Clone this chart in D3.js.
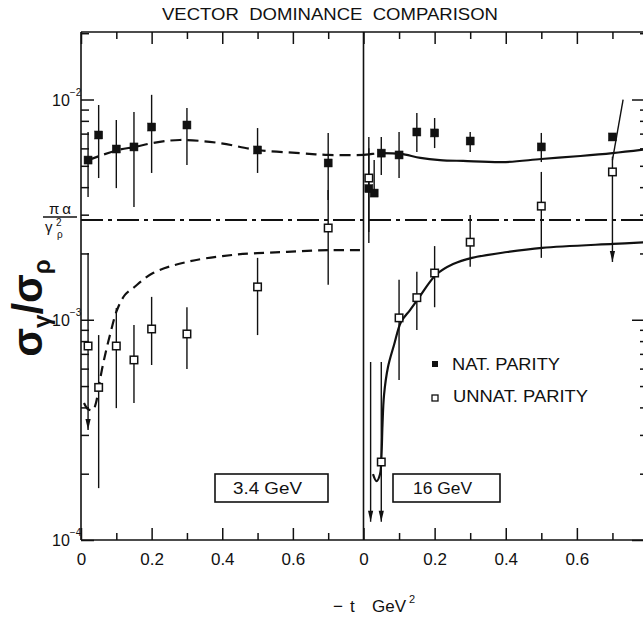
<!DOCTYPE html>
<html><head><meta charset="utf-8">
<script src="https://cdn.jsdelivr.net/npm/d3@7"></script>
<style>
body{margin:0;background:#fff;}
svg{display:block;background:#fff;}
text{font-family:"Liberation Sans","DejaVu Sans",Arial,sans-serif;fill:#111;}
</style></head><body>
<svg id="chart" width="643" height="620"></svg>
<script>
// ---------------- data ----------------
const title = "VECTOR\u00A0\u00A0DOMINANCE\u00A0\u00A0COMPARISON";
const panelLabels = ["3.4 GeV", "16 GeV"];
const xTickMajor = [0, 0.2, 0.4, 0.6];
const xTickMinor = [0.1, 0.3, 0.5, 0.7];
const yTickMajor = [1e-4, 1e-3, 1e-2];
const yTickExp = ["\u22124", "\u22123", "\u22122"];
const legendLabels = ["NAT. PARITY", "UNNAT. PARITY"];
const piAlphaOverGammaSq = 2.84e-3;

// 3.4 GeV natural parity (filled)
const nat34T  = [0.02, 0.05, 0.10, 0.15, 0.20, 0.30, 0.50, 0.70];
const nat34V  = [5.31e-3, 6.90e-3, 5.96e-3, 6.09e-3, 7.50e-3, 7.66e-3, 5.90e-3, 5.15e-3];
const nat34Lo = [3.61e-3, 4.40e-3, 3.96e-3, 3.25e-3, 4.64e-3, 5.04e-3, 4.64e-3, 3.50e-3];
const nat34Hi = [7.12e-3, 9.44e-3, 8.07e-3, 8.77e-3, 1.05e-2, 9.15e-3, 7.42e-3, 7.05e-3];
// 3.4 GeV unnatural parity (open)
const unn34T  = [0.02, 0.05, 0.10, 0.15, 0.20, 0.30, 0.50, 0.70];
const unn34V  = [7.60e-4, 4.93e-4, 7.60e-4, 6.57e-4, 9.08e-4, 8.62e-4, 1.41e-3, 2.61e-3];
const unn34Lo = [3.16e-4, 1.72e-4, 3.97e-4, 4.19e-4, 6.23e-4, 5.98e-4, 8.52e-4, 1.44e-3];
const unn34Hi = [2.01e-3, 8.52e-4, 1.13e-3, 9.47e-4, 1.27e-3, 1.14e-3, 1.91e-3, 3.88e-3];
const unn34Arrow = [1, 0, 0, 0, 0, 0, 0, 0];

// 16 GeV natural parity (filled)
const nat16T  = [0.015, 0.03, 0.05, 0.10, 0.15, 0.20, 0.30, 0.50, 0.70];
const nat16V  = [3.94e-3, 3.76e-3, 5.71e-3, 5.60e-3, 7.12e-3, 7.05e-3, 6.48e-3, 6.09e-3, 6.76e-3];
const nat16Lo = [2.23e-3, 3.61e-3, 4.54e-3, 4.40e-3, 5.78e-3, 6.02e-3, 5.78e-3, 5.20e-3, 5.31e-3];
const nat16Hi = [6.76e-3, 5.31e-3, 6.76e-3, 7.12e-3, 8.68e-3, 8.24e-3, 7.12e-3, 7.05e-3, 1.0e-2];
const nat16HiT = [0.015, 0.03, 0.05, 0.10, 0.15, 0.20, 0.30, 0.50, 0.73];
// 16 GeV unnatural parity (open)
const unn16T  = [0.015, 0.05, 0.10, 0.15, 0.20, 0.30, 0.50, 0.70];
const unn16V  = [4.40e-3, 2.26e-4, 1.02e-3, 1.26e-3, 1.63e-3, 2.25e-3, 3.28e-3, 4.69e-3];
const unn16Lo = [2.50e-3, 1.21e-4, 5.33e-4, 8.98e-4, 1.14e-3, 1.74e-3, 1.91e-3, 1.83e-3];
const unn16Hi = [6.00e-3, 6.43e-4, 1.52e-3, 1.65e-3, 2.16e-3, 2.99e-3, 4.69e-3, 5.50e-3];
const unn16Arrow = [0, 1, 0, 0, 0, 0, 0, 1];
// 16 GeV upper limit without point
const ul16T  = [0.02];
const ul16Hi = [6.43e-4];
const ul16Lo = [1.21e-4];

// model curves
const natCurve34T = [0.02, 0.105, 0.153, 0.204, 0.28, 0.39, 0.50, 0.62, 0.70, 0.80];
const natCurve34V = [5.31e-3, 5.90e-3, 6.09e-3, 6.35e-3, 6.55e-3, 6.35e-3, 5.90e-3, 5.71e-3, 5.60e-3, 5.60e-3];
const natCurve16DashT = [0, 0.025, 0.05];
const natCurve16DashV = [5.60e-3, 5.66e-3, 5.71e-3];
const natCurve16T = [0.05, 0.105, 0.16, 0.215, 0.28, 0.40, 0.50, 0.61, 0.70, 0.80];
const natCurve16V = [5.71e-3, 5.66e-3, 5.43e-3, 5.31e-3, 5.26e-3, 5.20e-3, 5.37e-3, 5.54e-3, 5.71e-3, 5.96e-3];
const unnCurve34T = [0.0085, 0.0198, 0.034, 0.0425, 0.051, 0.065, 0.082, 0.102, 0.125, 0.147, 0.204, 0.30, 0.43, 0.572, 0.70, 0.80];
const unnCurve34V = [4.19e-4, 3.93e-4, 3.89e-4, 4.20e-4, 5.05e-4, 6.57e-4, 8.52e-4, 1.107e-3, 1.30e-3, 1.39e-3, 1.63e-3, 1.83e-3, 1.97e-3, 2.03e-3, 2.07e-3, 2.07e-3];
const unnCurve16T = [0.0267, 0.0366, 0.0464, 0.0506, 0.0534, 0.0577, 0.0689, 0.0858, 0.1055, 0.1308, 0.156, 0.204, 0.252, 0.305, 0.404, 0.502, 0.702, 0.80];
const unnCurve16V = [1.99e-4, 1.85e-4, 1.99e-4, 2.43e-4, 3.33e-4, 4.55e-4, 6.10e-4, 7.68e-4, 9.77e-4, 1.107e-3, 1.26e-3, 1.60e-3, 1.79e-3, 1.91e-3, 2.03e-3, 2.12e-3, 2.21e-3, 2.25e-3];

// ---------------- drawing ----------------
const svg = d3.select("#chart");
const x34 = d3.scaleLinear().domain([0, 0.8]).range([81, 363.5]);
const x16 = d3.scaleLinear().domain([0, 0.8]).range([363.5, 648]);
const y = d3.scaleLog().domain([1e-4, Math.pow(10, -1.6935)]).range([540, 32]);
const yTop = y.range()[1], yBot = y.range()[0];
const ink = "#111";

// frame
const frame = svg.append("g").attr("stroke", ink).attr("stroke-width", 1.6).attr("fill", "none");
frame.append("line").attr("x1", x34(0)).attr("x2", x16(0.8)).attr("y1", yTop).attr("y2", yTop);
frame.append("line").attr("x1", x34(0)).attr("x2", x16(0.8)).attr("y1", yBot).attr("y2", yBot);
[x34(0), x16(0), x16(0.8)].forEach(xx =>
  frame.append("line").attr("x1", xx).attr("x2", xx).attr("y1", yTop).attr("y2", yBot));

function styleAxis(g) {
  g.select(".domain").remove();
  g.selectAll(".tick line").attr("stroke", ink).attr("stroke-width", 1.5);
  g.selectAll("text").attr("font-size", 17).attr("font-family", '"Liberation Sans","DejaVu Sans",sans-serif').attr("fill", ink);
}
const fmt = d => d === 0 ? "0" : d3.format(".1f")(d);
[x34, x16].forEach(xs => {
  svg.append("g").attr("transform", `translate(0,${yBot})`)
    .call(d3.axisBottom(xs).tickValues(xTickMajor).tickSize(-12).tickSizeOuter(0).tickPadding(13).tickFormat(fmt)).call(styleAxis);
  svg.append("g").attr("transform", `translate(0,${yBot})`)
    .call(d3.axisBottom(xs).tickValues(xTickMinor).tickSize(-7).tickSizeOuter(0).tickFormat("")).call(styleAxis);
  svg.append("g").attr("transform", `translate(0,${yTop})`)
    .call(d3.axisTop(xs).tickValues(xTickMajor).tickSize(-12).tickSizeOuter(0).tickFormat("")).call(styleAxis);
  svg.append("g").attr("transform", `translate(0,${yTop})`)
    .call(d3.axisTop(xs).tickValues(xTickMinor).tickSize(-7).tickSizeOuter(0).tickFormat("")).call(styleAxis);
});
const yMinor = [];
[-4, -3, -2].forEach(k => { for (let m = 2; m <= 9; m++) { const v = m * Math.pow(10, k); if (v <= y.domain()[1]) yMinor.push(v); } });
svg.append("g").attr("transform", `translate(${x34(0)},0)`)
  .call(d3.axisLeft(y).tickValues(yTickMajor).tickSize(-13).tickSizeOuter(0).tickFormat("")).call(styleAxis);
svg.append("g").attr("transform", `translate(${x34(0)},0)`)
  .call(d3.axisLeft(y).tickValues(yMinor).tickSize(-8).tickSizeOuter(0).tickFormat("")).call(styleAxis);
svg.append("g").attr("transform", `translate(${x16(0.8)},0)`)
  .call(d3.axisRight(y).tickValues(yTickMajor).tickSize(-16).tickSizeOuter(0).tickFormat("")).call(styleAxis);
svg.append("g").attr("transform", `translate(${x16(0.8)},0)`)
  .call(d3.axisRight(y).tickValues(yMinor).tickSize(-8).tickSizeOuter(0).tickFormat("")).call(styleAxis);

// y tick labels 10^k
yTickMajor.forEach((v, i) => {
  const t = svg.append("text").attr("x", 52).attr("y", y(v) + 6).attr("font-size", 16);
  t.append("tspan").text("10");
  t.append("tspan").attr("font-size", 10).attr("dy", -10).text(yTickExp[i]);
});

// pi alpha / gamma^2 line + label
svg.append("line").attr("x1", x34(0)).attr("x2", x16(0.8))
  .attr("y1", y(piAlphaOverGammaSq)).attr("y2", y(piAlphaOverGammaSq))
  .attr("stroke", ink).attr("stroke-width", 2).attr("stroke-dasharray", "22,5,4,5");
const fy = y(piAlphaOverGammaSq);
svg.append("text").attr("x", 60).attr("y", fy - 6).attr("text-anchor", "middle").attr("font-size", 15).text("\u03C0\u2009\u03B1");
svg.append("line").attr("x1", 43).attr("x2", 77).attr("y1", fy - 3).attr("y2", fy - 3).attr("stroke", ink).attr("stroke-width", 1.5);
svg.append("text").attr("x", 45).attr("y", fy + 12).attr("font-size", 15).text("\u03B3");
svg.append("text").attr("x", 56).attr("y", fy + 6).attr("font-size", 10).text("2");
svg.append("text").attr("x", 57).attr("y", fy + 18).attr("font-size", 10).text("\u03C1");

// title
svg.append("text").attr("x", 162).attr("y", 19.5).attr("font-size", 17)
  .attr("textLength", 336).attr("lengthAdjust", "spacingAndGlyphs").text(title);

// y axis title
const yl = svg.append("text").attr("transform", "translate(42,308) rotate(-90)")
  .attr("text-anchor", "middle").attr("font-size", 42).attr("font-weight", "bold")
  .attr("font-family", '"DejaVu Sans",sans-serif');
yl.append("tspan").text("\u03C3");
yl.append("tspan").attr("font-size", 24).attr("dy", 8).text("\u03B3");
yl.append("tspan").attr("dy", -8).text("/\u03C3");
yl.append("tspan").attr("font-size", 24).attr("dy", 8).text("\u03C1");

// x axis title
const xl = svg.append("text").attr("y", 612).attr("font-size", 17);
xl.append("tspan").attr("x", 333).text("\u2212");
xl.append("tspan").attr("x", 350).text("t");
xl.append("tspan").attr("x", 372).text("GeV");
xl.append("tspan").attr("x", 409).attr("dy", -9).attr("font-size", 11).text("2");

// curves
const lineGen = xs => d3.line().x(d => xs(d.t)).y(d => y(d.v)).curve(d3.curveCatmullRom.alpha(0.5));
const zip = (T, V) => T.map((t, i) => ({t, v: V[i]}));
function drawCurve(xs, T, V, dash) {
  svg.append("path").datum(zip(T, V)).attr("d", lineGen(xs)).attr("fill", "none")
    .attr("stroke", ink).attr("stroke-width", 2.2).attr("stroke-dasharray", dash || null);
}
drawCurve(x34, natCurve34T, natCurve34V, "11,6");
drawCurve(x34, unnCurve34T, unnCurve34V, "10,6");
drawCurve(x16, natCurve16DashT, natCurve16DashV, "11,6");
drawCurve(x16, natCurve16T, natCurve16V, null);
drawCurve(x16, unnCurve16T, unnCurve16V, null);

// error bars
function arrowHead(xx, yy) {
  svg.append("path").attr("d", `M${xx - 2.6},${yy - 11}L${xx + 2.6},${yy - 11}L${xx},${yy}Z`).attr("fill", ink);
}
function drawBars(xs, T, Lo, Hi, Arrow, HiT) {
  T.forEach((t, i) => {
    const xb = xs(t), xt = HiT ? xs(HiT[i]) : xb;
    svg.append("line").attr("x1", xb).attr("x2", xt).attr("y1", y(Lo[i])).attr("y2", y(Hi[i]))
      .attr("stroke", ink).attr("stroke-width", 1.4);
    if (Arrow && Arrow[i]) arrowHead(xb, y(Lo[i]));
  });
}
drawBars(x34, nat34T, nat34Lo, nat34Hi, null, null);
drawBars(x34, unn34T, unn34Lo, unn34Hi, unn34Arrow, null);
drawBars(x16, nat16T, nat16Lo, nat16Hi, null, nat16HiT);
drawBars(x16, unn16T, unn16Lo, unn16Hi, unn16Arrow, null);
drawBars(x16, ul16T, ul16Lo, ul16Hi, ul16T.map(() => 1), null);

// markers
function drawMarkers(xs, T, V, filled, s) {
  svg.append("g").selectAll("rect").data(zip(T, V)).join("rect")
    .attr("x", d => xs(d.t) - s / 2).attr("y", d => y(d.v) - s / 2)
    .attr("width", s).attr("height", s)
    .attr("fill", filled ? ink : "#fff").attr("stroke", ink).attr("stroke-width", filled ? 0.5 : 1.5);
}
drawMarkers(x34, unn34T, unn34V, false, 7.5);
drawMarkers(x16, unn16T, unn16V, false, 7.5);
drawMarkers(x34, nat34T, nat34V, true, 8);
drawMarkers(x16, nat16T, nat16V, true, 8);

// legend
svg.append("rect").attr("x", 432).attr("y", 361).attr("width", 6).attr("height", 6).attr("fill", ink);
svg.append("rect").attr("x", 432).attr("y", 395).attr("width", 6).attr("height", 6).attr("fill", "#fff").attr("stroke", ink).attr("stroke-width", 1.3);
svg.append("text").attr("x", 452).attr("y", 370).attr("font-size", 17).attr("textLength", 108).attr("lengthAdjust", "spacingAndGlyphs").text(legendLabels[0]);
svg.append("text").attr("x", 453).attr("y", 402).attr("font-size", 17).attr("textLength", 135).attr("lengthAdjust", "spacingAndGlyphs").text(legendLabels[1]);

// panel boxes
const boxes = [{x: 215, w: 113, tx: 233, tl: 69}, {x: 393, w: 107, tx: 413, tl: 59}];
boxes.forEach((b, i) => {
  svg.append("rect").attr("x", b.x).attr("y", 474).attr("width", b.w).attr("height", 28)
    .attr("fill", "#fff").attr("stroke", ink).attr("stroke-width", 1.6);
  svg.append("text").attr("x", b.tx).attr("y", 494).attr("font-size", 17)
    .attr("textLength", b.tl).attr("lengthAdjust", "spacingAndGlyphs").text(panelLabels[i]);
});
</script>
</body></html>
